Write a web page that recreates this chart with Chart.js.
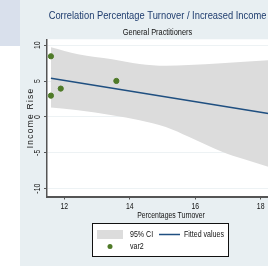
<!DOCTYPE html>
<html>
<head>
<meta charset="utf-8">
<script src="https://cdn.jsdelivr.net/npm/chart.js@4"></script>
<style>
  html, body { margin: 0; padding: 0; width: 268px; height: 266px; overflow: hidden; background: #fff; }
  #side { position: absolute; left: 0; top: 0; width: 20px; height: 46px; background: #d9e0ec; }
  #wrap { position: absolute; left: 20px; top: 0; width: 285px; height: 266px; background: #e8eff2; }
</style>
</head>
<body>
<div id="side"></div>
<div id="wrap"><canvas id="myChart" width="285" height="266"></canvas></div>
<script>
  // scatter points (var2)
  const varX = [11.59, 11.59, 11.89, 13.59];
  const varY = [8.47, 2.98, 3.96, 5.03];

  // fitted values
  const fitX = [11.59, 18.8];
  const fitY = [5.42, 0.06];

  // 95% CI band
  const ciX = [11.59, 12.42, 13.46, 14.3, 15.1, 15.8, 16.8, 17.5, 18.23, 18.8];
  const ciUpper = [9.73, 8.75, 8.06, 7.4, 7.15, 7.25, 7.5, 7.7, 7.92, 8.1];
  const ciLower = [1.33, 0.95, 0.26, -0.45, -1.4, -2.75, -4.8, -5.9, -6.94, -7.9];

  const xTicks = [12, 14, 16, 18];
  const yTicks = [-10, -5, 0, 5, 10];

  const sans = "'Liberation Sans', Arial, sans-serif";
  const pts = (xs, ys) => xs.map((x, i) => ({ x: x, y: ys[i] }));

  const ctx = document.getElementById('myChart');

  // no narrow font installed: squeeze canvas text horizontally like Arial Narrow
  const c2d = ctx.getContext('2d');
  const fill = c2d.fillText;
  c2d.fillText = function (t, x, y) {
    this.save();
    this.translate(x, y);
    if (t === 'Income Rise') {
      this.letterSpacing = '1.3px';
    } else {
      this.scale(0.82, 1);
    }
    fill.call(this, t, 0, 0);
    this.restore();
  };

  const whiteArea = {
    id: 'whiteArea',
    beforeDraw(chart) {
      const a = chart.chartArea;
      chart.ctx.save();
      chart.ctx.fillStyle = '#ffffff';
      chart.ctx.fillRect(a.left, a.top, a.right - a.left, a.bottom - a.top);
      chart.ctx.restore();
    }
  };

  // stata style legend box under the axis title
  const boxLegend = {
    id: 'boxLegend',
    afterDraw(chart) {
      const c = chart.ctx;
      const ds = chart.data.datasets;
      c.save();
      c.fillStyle = '#fff';
      c.fillRect(72, 223, 137, 34);
      c.strokeStyle = '#111';
      c.lineWidth = 1;
      c.strokeRect(72.5, 223.5, 136, 33);
      c.fillStyle = ds[3].backgroundColor;
      c.fillRect(77, 230, 26, 9);
      c.strokeStyle = ds[1].borderColor;
      c.lineWidth = 1.5;
      c.beginPath();
      c.moveTo(139, 234.5);
      c.lineTo(160, 234.5);
      c.stroke();
      c.fillStyle = ds[0].backgroundColor;
      c.beginPath();
      c.arc(90, 246.5, 2.5, 0, Math.PI * 2);
      c.fill();
      c.fillStyle = '#111';
      c.font = '8.6px ' + sans;
      c.textBaseline = 'middle';
      c.fillText(ds[3].label, 110, 235);
      c.fillText(ds[1].label, 164, 235);
      c.fillText(ds[0].label, 110, 247);
      c.restore();
    }
  };

  new Chart(ctx, {
    type: 'scatter',
    data: {
      datasets: [{
        label: 'var2',
        data: pts(varX, varY),
        backgroundColor: '#4f7a28',
        borderColor: '#4f7a28',
        pointRadius: 2.6
      }, {
        label: 'Fitted values',
        data: pts(fitX, fitY),
        showLine: true,
        borderColor: '#1f4f80',
        borderWidth: 1.5,
        pointRadius: 0
      }, {
        label: 'lower',
        data: pts(ciX, ciLower),
        showLine: true,
        borderWidth: 0,
        borderColor: 'rgba(0,0,0,0)',
        pointRadius: 0,
        cubicInterpolationMode: 'monotone'
      }, {
        label: '95% CI',
        data: pts(ciX, ciUpper),
        showLine: true,
        borderWidth: 0,
        borderColor: 'rgba(0,0,0,0)',
        backgroundColor: '#dcdcdc',
        fill: '-1',
        pointRadius: 0,
        cubicInterpolationMode: 'monotone'
      }]
    },
    options: {
      responsive: false,
      animation: false,
      layout: { padding: { left: 0, right: 10, top: 0, bottom: 45.5 } },
      plugins: {
        legend: { display: false },
        tooltip: { enabled: false },
        title: {
          display: true,
          text: 'Correlation Percentage Turnover / Increased Income',
          color: '#1e3c6e',
          font: { family: sans, size: 11.4, weight: 'normal' },
          padding: { top: 9, bottom: 2 }
        },
        subtitle: {
          display: true,
          text: 'General Practitioners',
          color: '#111',
          font: { family: sans, size: 9 },
          padding: { top: 2.5, bottom: 1.3 }
        }
      },
      scales: {
        x: {
          type: 'linear',
          min: 11.47,
          max: 19.05,
          afterBuildTicks: s => { s.ticks = xTicks.map(v => ({ value: v })); },
          afterFit: s => { s.height = 24; },
          grid: { drawOnChartArea: false, tickLength: 3, tickColor: '#555', tickWidth: 1 },
          border: { color: '#555', width: 2 },
          ticks: { color: '#111', font: { family: sans, size: 8.4 }, padding: 2, maxRotation: 0 },
          title: { display: true, text: 'Percentages Turnover', color: '#111', font: { family: sans, size: 8.4 }, padding: { top: 0, bottom: 0 } }
        },
        y: {
          type: 'linear',
          min: -11.09,
          max: 10.84,
          afterBuildTicks: s => { s.ticks = yTicks.map(v => ({ value: v })); },
          afterFit: s => { s.width = 27; },
          grid: { color: '#edf2f4', lineWidth: 1, tickLength: 3, tickColor: '#555' },
          border: { color: '#555', width: 1.5 },
          ticks: { color: '#111', font: { family: sans, size: 8.4 }, padding: 0, minRotation: 90, maxRotation: 90, crossAlign: 'center' },
          title: { display: true, text: 'Income Rise', color: '#111', font: { family: sans, size: 8.4 }, padding: { top: 6, bottom: 0 } }
        }
      }
    },
    plugins: [whiteArea, boxLegend]
  });
</script>
</body>
</html>
